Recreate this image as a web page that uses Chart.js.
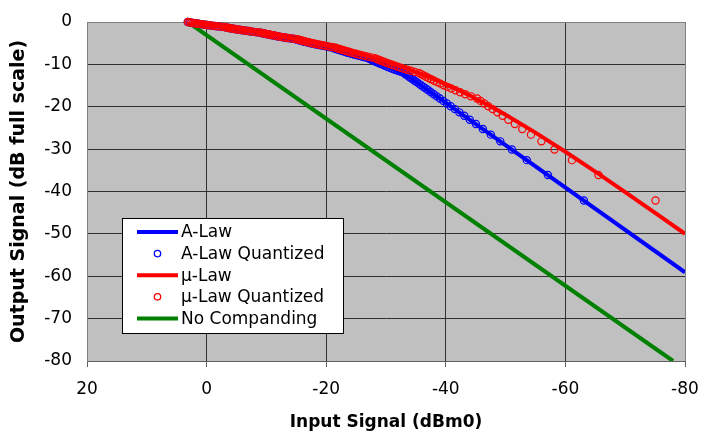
<!DOCTYPE html>
<html lang="en">
<head>
  <meta charset="UTF-8">
  <title>A-Law / μ-Law companding</title>
  <script src="https://cdn.jsdelivr.net/npm/chart.js"></script>
  <style>
    * { margin: 0; padding: 0; box-sizing: border-box; }
    body { background: #fff; width: 703px; height: 434px; overflow: hidden; }
  </style>
</head>
<body>
  <canvas id="chart" width="703" height="434"></canvas>

  <script>
    // axis ticks
    const xTicks = [20, 0, -20, -40, -60, -80];
    const yTicks = [0, -10, -20, -30, -40, -50, -60, -70, -80];

    // A-Law curve (input dBm0 -> output dB full scale)
    const aLawIn  = [3.14, 2, 0, -2, -4, -6, -8, -10, -12, -14, -16, -18, -20, -22, -24, -26, -28, -30, -32, -34, -35.71, -80];
    const aLawOut = [0, -0.21, -0.59, -0.99, -1.41, -1.86, -2.32, -2.81, -3.33, -3.88, -4.48, -5.11, -5.79, -6.54, -7.35, -8.25, -9.25, -10.38, -11.68, -13.2, -14.77, -59.06];

    // A-Law quantized points: codes 1..32, then even codes
    const aQuantIn = [-63.09, -57.07, -53.55, -51.05, -49.11, -47.53, -46.19, -45.03, -44.01, -43.09, -42.26, -41.51, -40.81, -40.17, -39.57, -39.01,
      -38.48, -37.99, -37.52, -37.07, -36.65, -36.24, -35.86, -35.49, -35.13, -34.79, -34.46, -34.15, -33.84, -33.55, -33.26, -32.99,
      -31.96, -31.05, -30.22, -29.47, -28.77, -28.13, -27.53,
      -26.97, -25.94, -25.03, -24.2, -23.44, -22.75, -22.11, -21.51,
      -20.95, -19.92, -19.01, -18.18, -17.42, -16.73, -16.09, -15.49,
      -14.93, -13.9, -12.99, -12.16, -11.4, -10.71, -10.06, -9.47,
      -8.9, -7.88, -6.97, -6.14, -5.38, -4.69, -4.04, -3.44,
      -2.88, -1.86, -0.95, -0.12, 0.64, 1.33, 1.98, 2.58, 3.14];
    const aQuantOut = [-42.14, -36.12, -32.6, -30.1, -28.17, -26.58, -25.24, -24.08, -23.06, -22.14, -21.32, -20.56, -19.87, -19.22, -18.62, -18.06,
      -17.54, -17.04, -16.57, -16.12, -15.7, -15.3, -14.91, -14.54, -14.19, -13.85, -13.52, -13.2, -12.9, -12.6, -12.32, -12.04,
      -11.51, -11.02, -10.55, -10.1, -9.68, -9.28, -8.89,
      -8.52, -8.17, -7.82, -7.5, -7.18, -6.88, -6.58, -6.3,
      -6.02, -5.75, -5.49, -5.24, -5.0, -4.76, -4.53, -4.3,
      -4.08, -3.87, -3.66, -3.45, -3.25, -3.06, -2.87, -2.68,
      -2.5, -2.32, -2.14, -1.97, -1.8, -1.64, -1.48, -1.32,
      -1.16, -1.01, -0.86, -0.71, -0.56, -0.42, -0.28, -0.14, 0];
    // A-Law quantized, odd codes 33..127
    const aQuantInOdd = [-32.46, -31.49, -30.62, -29.83, -29.11, -28.44, -27.82, -27.24,
      -26.44, -25.47, -24.6, -23.81, -23.09, -22.42, -21.8, -21.22,
      -20.42, -19.45, -18.58, -17.79, -17.07, -16.4, -15.78, -15.2,
      -14.4, -13.43, -12.56, -11.77, -11.05, -10.38, -9.76, -9.18,
      -8.38, -7.41, -6.54, -5.75, -5.03, -4.36, -3.74, -3.16,
      -2.36, -1.39, -0.52, 0.27, 0.99, 1.66, 2.28, 2.86];
    const quantOutOdd = [-11.77, -11.26, -10.78, -10.32, -9.89, -9.48, -9.08, -8.7,
      -8.34, -7.99, -7.66, -7.34, -7.03, -6.73, -6.44, -6.16,
      -5.89, -5.62, -5.37, -5.12, -4.88, -4.64, -4.41, -4.19,
      -3.97, -3.76, -3.56, -3.35, -3.16, -2.96, -2.77, -2.59,
      -2.41, -2.23, -2.06, -1.89, -1.72, -1.56, -1.4, -1.24,
      -1.08, -0.93, -0.78, -0.63, -0.49, -0.35, -0.21, -0.07];

    // μ-Law curve
    const muLawIn  = [3.14, 2, 0, -2, -4, -6, -8, -10, -12, -14, -16, -18, -20, -22, -24, -26, -28, -30, -32, -34, -36, -38, -40, -42, -44, -46, -48, -50, -55, -60, -65, -70, -75, -80];
    const muLawOut = [0, -0.21, -0.58, -0.98, -1.38, -1.81, -2.27, -2.74, -3.24, -3.76, -4.32, -4.91, -5.54, -6.2, -6.91, -7.67, -8.48, -9.35, -10.28, -11.28, -12.34, -13.48, -14.7, -15.99, -17.36, -18.8, -20.31, -21.9, -26.11, -30.61, -35.3, -40.13, -45.02, -49.97];

    // μ-Law quantized points: codes 1..31, then even codes
    const muQuantIn = [-75.07, -65.53, -61.09, -58.17, -55.99, -54.24, -52.79, -51.55, -50.46, -49.5, -48.63, -47.84, -47.11, -46.44, -45.82,
      -45.24, -44.19, -43.25, -42.4, -41.63, -40.92, -40.26, -39.65, -39.08, -38.55, -38.05, -37.57, -37.12, -36.69, -36.28, -35.89,
      -35.52, -34.16, -33.0, -31.96, -31.04, -30.21, -29.45, -28.75,
      -28.1, -26.94, -25.91, -24.99, -24.16, -23.41, -22.71, -22.06,
      -21.46, -20.37, -19.41, -18.54, -17.74, -17.02, -16.35, -15.73,
      -15.15, -14.09, -13.15, -12.3, -11.53, -10.82, -10.16, -9.55,
      -8.98, -7.95, -7.02, -6.18, -5.42, -4.71, -4.06, -3.46,
      -2.89, -1.86, -0.94, -0.11, 0.65, 1.35, 2.0, 2.6, 3.14];
    const muQuantOut = [-42.14, -36.12, -32.6, -30.1, -28.17, -26.58, -25.24, -24.08, -23.06, -22.14, -21.32, -20.56, -19.87, -19.22, -18.62,
      -18.06, -17.54, -17.04, -16.57, -16.12, -15.7, -15.3, -14.91, -14.54, -14.19, -13.85, -13.52, -13.2, -12.9, -12.6, -12.32,
      -12.04, -11.51, -11.02, -10.55, -10.1, -9.68, -9.28, -8.89,
      -8.52, -8.17, -7.82, -7.5, -7.18, -6.88, -6.58, -6.3,
      -6.02, -5.75, -5.49, -5.24, -5.0, -4.76, -4.53, -4.3,
      -4.08, -3.87, -3.66, -3.45, -3.25, -3.06, -2.87, -2.68,
      -2.5, -2.32, -2.14, -1.97, -1.8, -1.64, -1.48, -1.32,
      -1.16, -1.01, -0.86, -0.71, -0.56, -0.42, -0.28, -0.14, 0];
    // μ-Law quantized, odd codes 33..127 (same output levels as quantOutOdd)
    const muQuantInOdd = [-34.81, -33.56, -32.46, -31.49, -30.62, -29.82, -29.09, -28.42,
      -27.5, -26.41, -25.44, -24.57, -23.78, -23.05, -22.38, -21.76,
      -20.9, -19.88, -18.96, -18.13, -17.37, -16.68, -16.03, -15.43,
      -14.61, -13.61, -12.72, -11.91, -11.17, -10.49, -9.85, -9.26,
      -8.45, -7.47, -6.59, -5.79, -5.06, -4.38, -3.76, -3.17,
      -2.36, -1.39, -0.52, 0.28, 1.01, 1.68, 2.3, 2.89];

    // no companding
    const noCompIn  = [3.14, -78];
    const noCompOut = [0, -80];

    const toPoints = (xs, ys) => xs.map((x, i) => ({ x: x, y: ys[i] }));

    const FONT = "'DejaVu Sans', 'Liberation Sans', Arial, sans-serif";

    const plotBackground = {
      id: 'plotBackground',
      beforeDraw(chart) {
        const { ctx, chartArea: a } = chart;
        ctx.save();
        ctx.fillStyle = '#c0c0c0';
        ctx.fillRect(a.left, a.top, a.right - a.left, a.bottom - a.top);
        ctx.restore();
      }
    };

    // legend box sitting inside the plot, like the original
    const boxLegend = {
      id: 'boxLegend',
      afterDraw(chart) {
        const { ctx, chartArea: a } = chart;
        const left = a.left + 35, top = a.top + 196, w = 221, h = 115;
        ctx.save();
        ctx.fillStyle = '#fff';
        ctx.fillRect(left, top, w, h);
        ctx.strokeStyle = '#000';
        ctx.lineWidth = 1;
        ctx.strokeRect(left + 0.5, top + 0.5, w, h);
        ctx.font = '17px ' + FONT;
        ctx.textBaseline = 'middle';
        chart.data.datasets.forEach((ds, i) => {
          const y = top + 14 + i * 21.6;
          ctx.strokeStyle = ds.borderColor;
          ctx.beginPath();
          if (ds.showLine) {
            ctx.lineWidth = 4;
            ctx.moveTo(left + 15, y);
            ctx.lineTo(left + 56, y);
          } else {
            ctx.lineWidth = 1.3;
            ctx.arc(left + 35.5, y, 3.2, 0, Math.PI * 2);
          }
          ctx.stroke();
          ctx.fillStyle = '#000';
          ctx.fillText(ds.label, left + 59, y + 1);
        });
        ctx.restore();
      }
    };

    const lineSet = (label, xs, ys, color, order) => ({
      label: label,
      data: toPoints(xs, ys),
      showLine: true,
      borderColor: color,
      borderWidth: 4,
      pointRadius: 0,
      fill: false,
      order: order
    });

    const dotSet = (label, xs, ys, color, order) => ({
      label: label,
      data: toPoints(xs, ys),
      showLine: false,
      borderColor: color,
      backgroundColor: 'rgba(0,0,0,0)',
      pointRadius: 3.6,
      pointBorderWidth: 1.2,
      clip: 8,
      order: order
    });

    const edgeX = ctx => (ctx.tick && (ctx.tick.value === 20 || ctx.tick.value === -80)) ? '#808080' : '#303030';
    const edgeY = ctx => (ctx.tick && (ctx.tick.value === 0 || ctx.tick.value === -80)) ? '#808080' : '#303030';

    new Chart(document.getElementById('chart'), {
      type: 'scatter',
      data: {
        datasets: [
          lineSet('A-Law', aLawIn, aLawOut, '#0000ff', 4),
          dotSet('A-Law Quantized', aQuantIn.concat(aQuantInOdd), aQuantOut.concat(quantOutOdd), '#0000ff', 3),
          lineSet('μ-Law', muLawIn, muLawOut, '#ff0000', 2),
          dotSet('μ-Law Quantized', muQuantIn.concat(muQuantInOdd), muQuantOut.concat(quantOutOdd), '#ff0000', 1),
          lineSet('No Companding', noCompIn, noCompOut, '#008000', 5)
        ]
      },
      options: {
        responsive: false,
        animation: false,
        devicePixelRatio: 1,
        layout: { padding: { top: 22, right: 18, left: 0, bottom: 0 } },
        plugins: {
          legend: { display: false },
          tooltip: { enabled: false }
        },
        scales: {
          x: {
            type: 'linear',
            reverse: true,
            min: -80,
            max: 20,
            afterBuildTicks: s => { s.ticks = xTicks.map(v => ({ value: v })); },
            afterFit: s => { s.height = 73; s.paddingLeft = 0; s.paddingRight = 0; },
            ticks: { color: '#000', font: { family: FONT, size: 17 }, padding: 12, maxRotation: 0, autoSkip: false },
            grid: { color: edgeX, lineWidth: 1, drawTicks: true, tickLength: 6, tickColor: '#606060' },
            border: { color: '#606060', width: 1 },
            title: {
              display: true,
              text: 'Input Signal (dBm0)',
              color: '#000',
              font: { family: FONT, size: 17, weight: 'bold' },
              padding: { top: 0, bottom: 1 }
            }
          },
          y: {
            type: 'linear',
            min: -80,
            max: 0,
            afterBuildTicks: s => { s.ticks = yTicks.map(v => ({ value: v })); },
            afterFit: s => { s.width = 87; s.paddingTop = 0; s.paddingBottom = 0; },
            ticks: { color: '#000', font: { family: FONT, size: 17 }, padding: 15 },
            grid: { color: edgeY, lineWidth: 1, drawTicks: false },
            border: { color: '#808080', width: 1 },
            title: {
              display: true,
              text: 'Output Signal (dB full scale)',
              color: '#000',
              font: { family: FONT, size: 19, weight: 'bold' },
              padding: { top: 8, bottom: 0 }
            }
          }
        }
      },
      plugins: [plotBackground, boxLegend]
    });
  </script>
</body>
</html>
